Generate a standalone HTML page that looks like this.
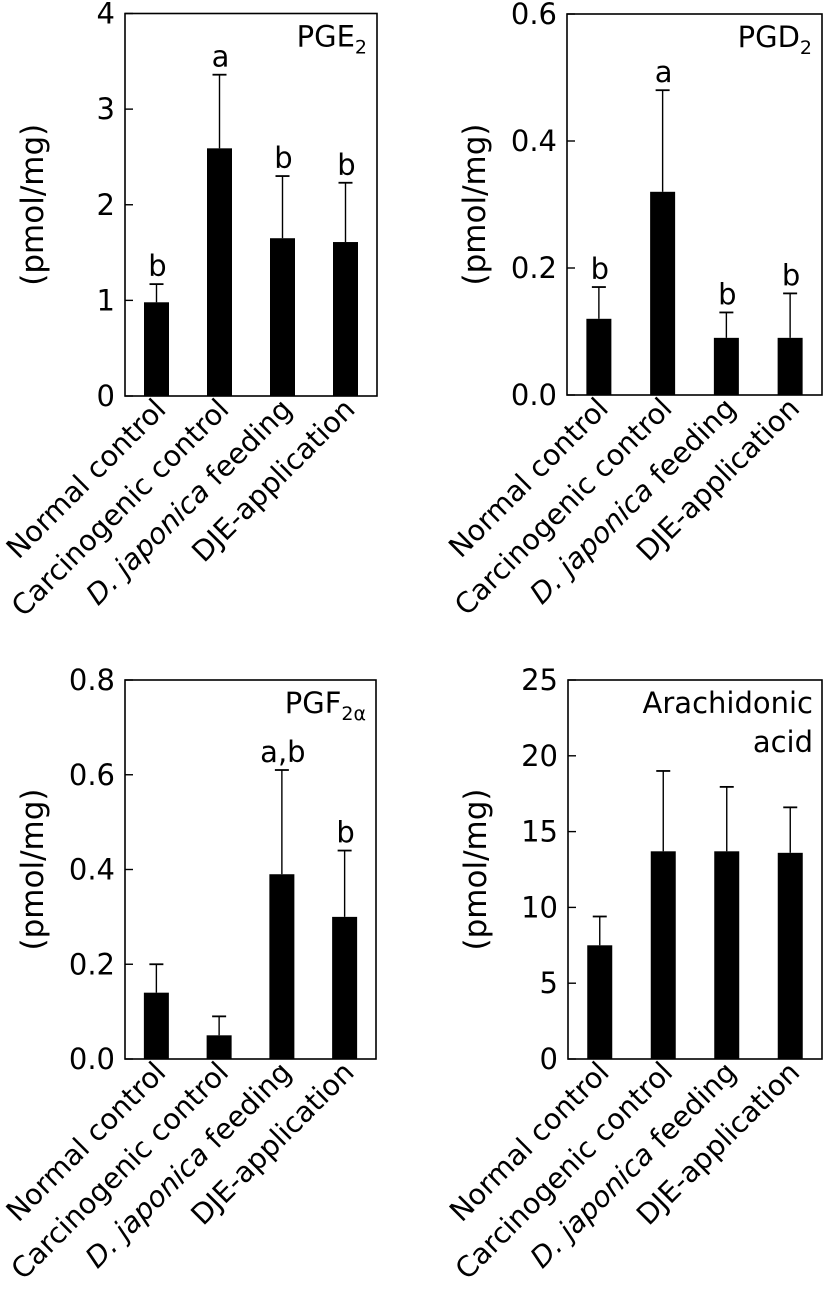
<!DOCTYPE html>
<html><head><meta charset="utf-8"><style>
html,body{margin:0;padding:0;background:#fff;}
svg{display:block;font-family:"DejaVu Sans","Liberation Sans",sans-serif;}
</style></head><body>
<svg id="chart" width="826" height="1298" viewBox="0 0 826 1298"></svg>
<script>
const categories = ["Normal control","Carcinogenic control","D. japonica feeding","DJE-application"];
const pgeValues = [0.98, 2.59, 1.65, 1.61];
const pgeErrors = [1.17, 3.36, 2.30, 2.23];
const pgeLetters = ["b","a","b","b"];
const pgeTicks = ["0","1","2","3","4"];
const pgdValues = [0.12, 0.32, 0.09, 0.09];
const pgdErrors = [0.17, 0.48, 0.13, 0.16];
const pgdLetters = ["b","a","b","b"];
const pgdTicks = ["0.0","0.2","0.4","0.6"];
const pgfValues = [0.14, 0.05, 0.39, 0.30];
const pgfErrors = [0.20, 0.09, 0.61, 0.44];
const pgfLetters = ["","","a,b","b"];
const pgfTicks = ["0.0","0.2","0.4","0.6","0.8"];
const aaValues = [7.5, 13.7, 13.7, 13.6];
const aaErrors = [9.4, 19.0, 17.95, 16.6];
const aaLetters = ["","","",""];
const aaTicks = ["0","5","10","15","20","25"];

const NS="http://www.w3.org/2000/svg";
const svg=document.getElementById('chart');
function mk(tag,attrs,parent){const e=document.createElementNS(NS,tag);for(const k in attrs)e.setAttribute(k,attrs[k]);(parent||svg).appendChild(e);return e;}

function panel(key,x0,x1,y0,y1,values,errors,letters,ticks,titleFn){
  const g=mk('g',{});
  
  
  const tmin=parseFloat(ticks[0]),tmax=parseFloat(ticks[ticks.length-1]);
  const yS=v=>y1-(v-tmin)/(tmax-tmin)*(y1-y0);
  const slot=(x1-x0)/categories.length;
  const xS=i=>x0+slot*(i+0.5);
  const box=mk('rect',{x:x0,y:y0,width:x1-x0,height:y1-y0,fill:'none',stroke:'#000','stroke-width':1.6},g);
  
  
  ticks.forEach(t=>{
    const y=yS(parseFloat(t));
    const tk=mk('line',{x1:x0,x2:x0+8,y1:y,y2:y,stroke:'#000','stroke-width':1.4},g);
    
    
    const tl=mk('text',{x:x0-10,y:y+10,'text-anchor':'end','font-size':29},g);
    tl.textContent=t;
    
    
  });
  const yt=mk('text',{x:0,y:0,'text-anchor':'middle','font-size':31,transform:`translate(${x0-82},${(y0+y1)/2}) rotate(-90)`},g);
  yt.textContent='(pmol/mg)';
  
  
  const bw=25;
  values.forEach((v,i)=>{
    const cx=xS(i);
    const eb=mk('line',{x1:cx,x2:cx,y1:yS(v),y2:yS(errors[i]),stroke:'#000','stroke-width':1.4},g);
    
    
    const cap=mk('line',{x1:cx-7,x2:cx+7,y1:yS(errors[i]),y2:yS(errors[i]),stroke:'#000','stroke-width':1.8},g);
    
    
    const b=mk('rect',{x:cx-bw/2,y:yS(v),width:bw,height:yS(tmin)-yS(v),fill:'#000'},g);
    
    
    if(letters[i]){
      const l=mk('text',{x:cx+1,y:yS(errors[i])-8,'text-anchor':'middle','font-size':29},g);
      l.textContent=letters[i];
      
      
    }
    const xl=mk('text',{x:0,y:0,'text-anchor':'end','font-size':28.5,transform:`translate(${cx+11},${y1+15}) rotate(-45)`},g);
    if(i===2){
      const it=mk('tspan',{'font-style':'italic'},xl);it.textContent='D. japonica';
      const r=mk('tspan',{},xl);r.textContent=' feeding';
    } else xl.textContent=categories[i];
    
    
  });
  titleFn(g,x1-10,y0);
}
function subTitle(main,sub){
  return (g,xr,y0)=>{
    const t=mk('text',{x:xr,y:y0+33,'text-anchor':'end','font-size':29},g);
    const a=mk('tspan',{},t);a.textContent=main;
    const b=mk('tspan',{'font-size':19,dy:7},t);b.textContent=sub;
    
    
  };
}
panel('pge2',125,377,13.5,396,pgeValues,pgeErrors,pgeLetters,pgeTicks,subTitle('PGE','2'));
panel('pgd2',567,822,14,395,pgdValues,pgdErrors,pgdLetters,pgdTicks,subTitle('PGD','2'));
panel('pgf2a',125,376,680,1059,pgfValues,pgfErrors,pgfLetters,pgfTicks,subTitle('PGF','2α'));
panel('arachidonic',568,822,680,1059,aaValues,aaErrors,aaLetters,aaTicks,(g,xr,y0)=>{
  const t=mk('text',{x:xr+1,y:y0+33,'text-anchor':'end','font-size':29},g);
  t.textContent='Arachidonic';
  
  
  const t2=mk('text',{x:xr+1,y:y0+72,'text-anchor':'end','font-size':29},g);
  t2.textContent='acid';
  
  
});
</script>
</body></html>
